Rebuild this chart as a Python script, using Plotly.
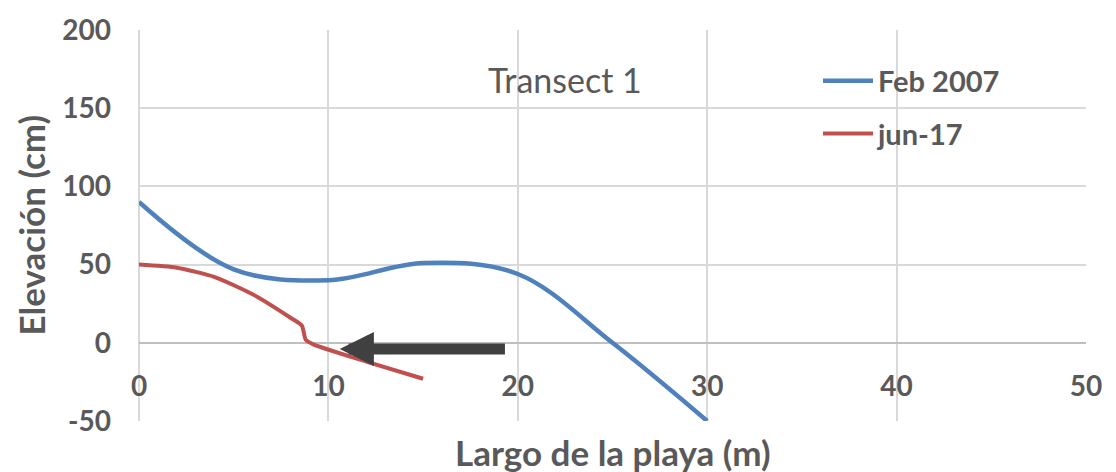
import plotly.graph_objects as go

# Data
feb_x = [0, 5, 10, 15, 20, 25, 30]
feb_y = [90, 47, 40, 51, 44, 0, -50]

jun_x = [0, 2, 4, 6, 8, 8.6, 8.8, 9.2, 12, 15]
jun_y = [50, 48, 42, 31, 16, 11, 2, -1, -12, -23]

x_ticks = [0, 10, 20, 30, 40, 50]
y_ticks = [-50, 0, 50, 100, 150, 200]
y_tick_text = ["-50", "0", "50", "100", "150", "200"]

# arrow (annotation) from / to, data coordinates
arrow_tail = (19.4, -4)
arrow_tip = (10.6, -4)

TXT = "#595959"
FONT = "Lato"

fig = go.Figure()
fig.add_trace(go.Scatter(x=feb_x, y=feb_y, mode="lines", name="Feb 2007",
                         line=dict(color="#4F81BD", width=4.5, shape="spline", smoothing=1.0),
                         legendgroup="a"))
fig.add_trace(go.Scatter(x=jun_x, y=jun_y, mode="lines", name="jun-17",
                         line=dict(color="#C0504D", width=4, shape="spline", smoothing=0.6),
                         legendgroup="b"))

fig.update_layout(
    width=1116, height=472,
    margin=dict(l=139, r=30, t=23, b=51),
    paper_bgcolor="white", plot_bgcolor="white",
    font=dict(family=FONT, color=TXT),
    legend=dict(x=(818 - 139) / 947, y=0.935, xanchor="left", yanchor="top",
                font=dict(size=29, family=FONT, color=TXT, weight="bold"),
                itemwidth=50,
                bgcolor="rgba(0,0,0,0)", tracegroupgap=12, traceorder="grouped"),
    xaxis=dict(range=[0, 50], tickvals=x_ticks, showgrid=True, gridcolor="#D9D9D9", gridwidth=1.5,
               zeroline=True, zerolinecolor="#D9D9D9", zerolinewidth=1.5,
               showline=False, ticks="", anchor="free", position=0.2,
               ticklabelstandoff=24,
               tickfont=dict(size=28, family=FONT, color=TXT, weight="bold")),
    yaxis=dict(range=[-50, 200], tickvals=y_ticks, ticktext=y_tick_text,
               showgrid=True, gridcolor="#D9D9D9", gridwidth=1.5,
               zeroline=True, zerolinecolor="#BFBFBF", zerolinewidth=1.5,
               showline=False, ticks="", ticklabelstandoff=27,
               tickfont=dict(size=28, family=FONT, color=TXT, weight="bold")),
    annotations=[
        dict(text="Transect 1", x=(565 - 139) / 947, y=1 - (73 - 23) / 398, xref="paper", yref="paper",
             xanchor="center", yanchor="middle",
             showarrow=False, font=dict(size=34, family=FONT, color=TXT)),
        dict(text="Largo de la playa (m)", x=(613 - 139) / 947, y=-(453 - 421) / 398,
             xref="paper", yref="paper", xanchor="center", yanchor="middle", showarrow=False,
             font=dict(size=35, family=FONT, color=TXT, weight="bold")),
        dict(text="Elevación (cm)", x=(30 - 139) / 947, y=0.5, xref="paper", yref="paper",
             xanchor="center", yanchor="middle", textangle=-90, showarrow=False,
             font=dict(size=35, family=FONT, color=TXT, weight="bold")),
        dict(x=arrow_tip[0], y=arrow_tip[1], ax=arrow_tail[0], ay=arrow_tail[1],
             xref="x", yref="y", axref="x", ayref="y", text="", showarrow=True,
             arrowhead=2, arrowsize=0.62, arrowwidth=11, arrowcolor="#404040"),
    ],
)

fig.write_html("out.html", config={"displayModeBar": False},
               post_script="document.body.style.margin='0';")
